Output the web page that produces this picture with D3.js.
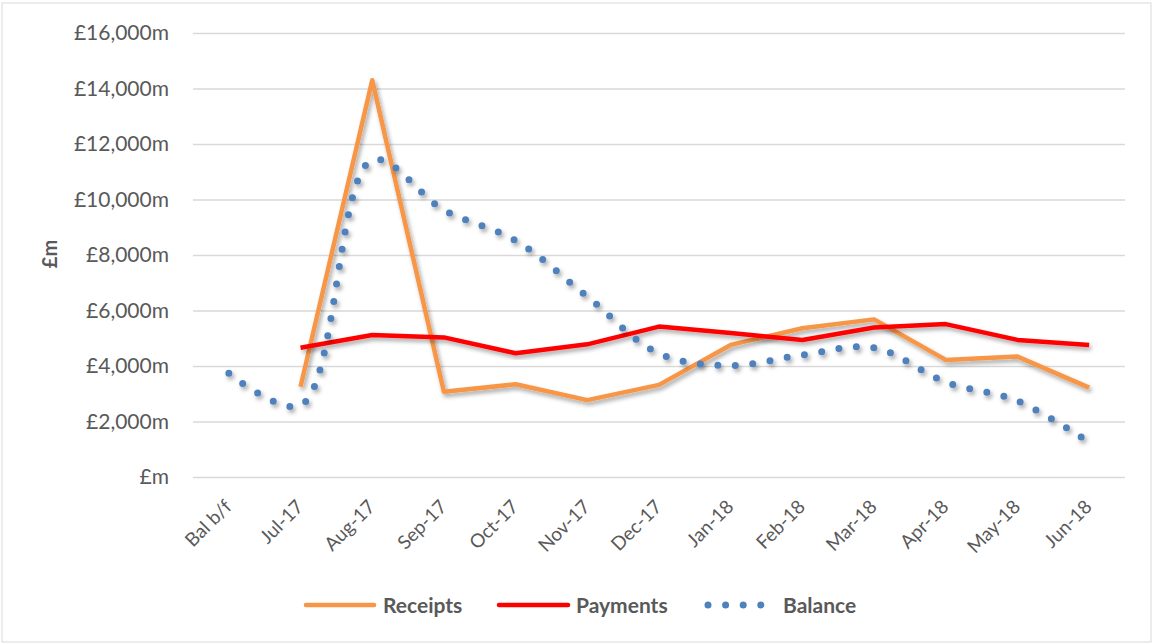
<!DOCTYPE html>
<html><head><meta charset="utf-8">
<script src="https://cdn.jsdelivr.net/npm/d3@7"></script>
<style>body{margin:0;background:#fff}svg{display:block}</style>
</head><body>
<svg id="c" width="1153" height="644"></svg>
<script>
const categories = ["Bal b/f","Jul-17","Aug-17","Sep-17","Oct-17","Nov-17","Dec-17","Jan-18","Feb-18","Mar-18","Apr-18","May-18","Jun-18"];
const receipts = [null,3250,14300,3070,3340,2770,3320,4760,5360,5680,4220,4340,3220];
const payments = [null,4660,5120,5030,4460,4780,5420,5190,4940,5390,5510,4940,4760];
const balance  = [3740,2580,11420,9620,8520,6500,4450,4020,4400,4660,3420,2740,1260];
const yTicks = [0,2000,4000,6000,8000,10000,12000,14000,16000];
const seriesNames = ["Receipts","Payments","Balance"];
const colors = {Receipts:"#F79646", Payments:"#FF0000", Balance:"#4F81BD"};

const svg = d3.select("#c");
const font = "Lato, 'Open Sans', sans-serif";
const txt = "#595959";

const defs = svg.append("defs");
const f = defs.append("filter").attr("id","sh").attr("x","-10%").attr("y","-10%").attr("width","130%").attr("height","130%");
f.append("feDropShadow").attr("dx",2).attr("dy",3).attr("stdDeviation",2).attr("flood-color","#000").attr("flood-opacity",0.35);

svg.append("rect").attr("x",2).attr("y",3).attr("width",1149).attr("height",639)
  .attr("fill","#fff").attr("stroke","#d9d9d9").attr("stroke-width",1);

const L=193, R=1125, T=33, B=477;
const x = d3.scaleBand().domain(categories).range([L,R]);
const y = d3.scaleLinear().domain([0,16000]).range([B,T]);
const cx = c => x(c)+x.bandwidth()/2;

// gridlines + y labels
const fmt = v => v===0 ? "£m" : "£"+d3.format(",")(v)+"m";
const yAxis = d3.axisLeft(y).tickValues(yTicks).tickFormat(fmt).tickSize(-(R-L)).tickPadding(24);
const ga = svg.append("g").attr("transform",`translate(${L},0)`).call(yAxis);
ga.select(".domain").remove();
ga.selectAll(".tick line").attr("stroke","#d9d9d9").attr("stroke-width",1.5);
ga.selectAll(".tick text").attr("fill",txt).style("font-family",font).style("font-size","21px");

// x labels
const xAxis = d3.axisBottom(x).tickSize(0).tickPadding(0);
const gx = svg.append("g").attr("transform",`translate(0,${B})`).call(xAxis);
gx.select(".domain").remove();
gx.selectAll(".tick text").attr("fill",txt).style("font-family",font).style("font-size","19px")
  .attr("text-anchor","end").attr("dy",0).attr("transform","translate(4,31) rotate(-45)");

// y title
svg.append("text").attr("transform","translate(57,254) rotate(-90)").attr("text-anchor","middle")
  .attr("fill",txt).style("font-family",font).style("font-size","20px").style("font-weight","bold").text("£m");

const line = d3.line().defined(d=>d.v!=null).x(d=>cx(d.c)).y(d=>y(d.v));
const mk = arr => categories.map((c,i)=>({c, v:arr[i]}));

svg.append("path").datum(mk(receipts)).attr("d",line).attr("fill","none")
  .attr("stroke",colors.Receipts).attr("stroke-width",4.5).attr("stroke-linejoin","round").attr("filter","url(#sh)");
svg.append("path").datum(mk(payments)).attr("d",line).attr("fill","none")
  .attr("stroke",colors.Payments).attr("stroke-width",4.5).attr("stroke-linejoin","round").attr("filter","url(#sh)");
const smooth = d3.line().x(d=>cx(d.c)).y(d=>y(d.v)).curve(d3.curveCatmullRom.alpha(0.5));
svg.append("path").datum(mk(balance)).attr("d",smooth).attr("fill","none")
  .attr("stroke",colors.Balance).attr("stroke-width",7).attr("stroke-linecap","round")
  .attr("stroke-dasharray","0 17.5").attr("filter","url(#sh)");

// legend
const lg = svg.append("g");
const items = [{n:"Receipts",x1:306,x2:374,tx:383},{n:"Payments",x1:499,x2:568,tx:576},{n:"Balance",x1:708,x2:761,tx:783}];
items.forEach(it=>{
  const ly=605;
  const l = lg.append("line").attr("x1",it.x1).attr("x2",it.x2).attr("y1",ly).attr("y2",ly)
    .attr("stroke",colors[it.n]);
  if(it.n==="Balance"){ l.attr("stroke-width",7).attr("stroke-linecap","round").attr("stroke-dasharray","0 17.6"); }
  else l.attr("stroke-width",4.5).attr("stroke-linecap","round");
  lg.append("text").attr("x",it.tx).attr("y",ly).attr("dy","0.36em").attr("fill",txt)
    .style("font-family",font).style("font-size","21px").style("font-weight","bold").text(it.n);
});
</script>
</body></html>
